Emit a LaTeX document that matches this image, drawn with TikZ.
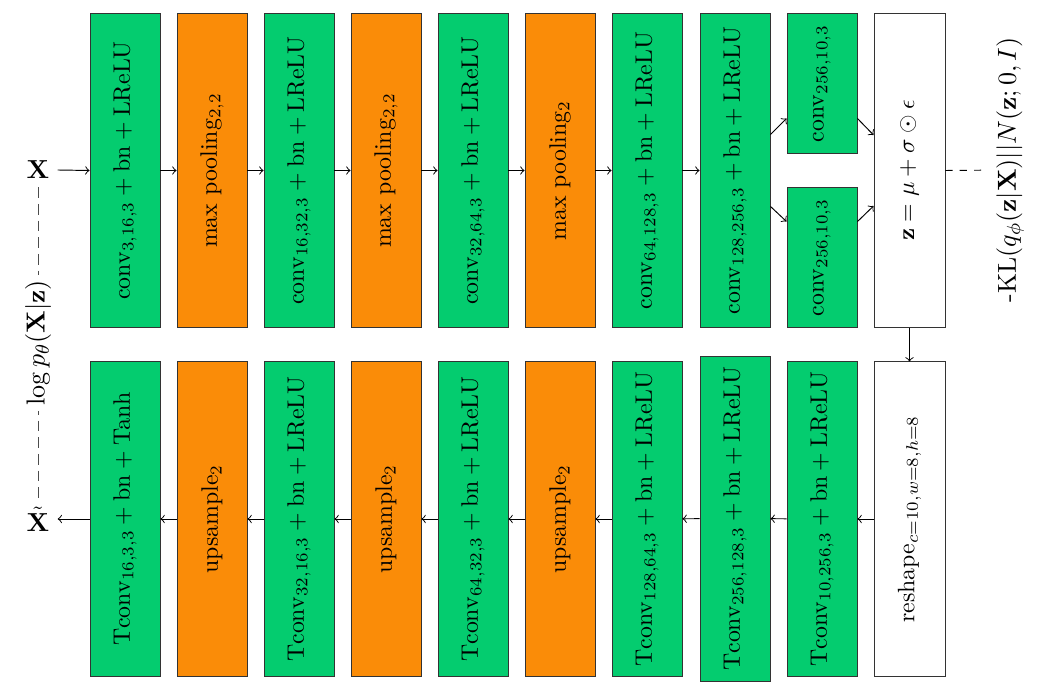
\documentclass[tikz,border=0pt]{standalone}
\usepackage{graphicx}
\definecolor{convgreen}{RGB}{4,204,111}
\definecolor{poolorange}{RGB}{250,140,8}
\begin{document}
\begin{tikzpicture}[x=0.42pt,y=-0.42pt,
  box/.style={draw=black!80, line width=0.4pt, minimum width=29.4pt, minimum height=131.9pt, inner sep=0pt},
  gbox/.style={box, fill=convgreen},
  obox/.style={box, fill=poolorange},
  wbox/.style={box, fill=white},
  arr/.style={->, line width=0.4pt},
  outer/.style={font=\fontsize{10.9}{13}\selectfont},
  lbl/.style={outer, inner sep=3.3pt}]
\useasboundingbox (0,0) rectangle (1047,692);
% encoder
\node[lbl] (x) at (38,170) {$\mathbf{X}$};
\node[gbox] (e1) at (125,170.5) {\rotatebox{90}{$\mathrm{conv}_{3,16,3}+\mathrm{bn}+\mathrm{LReLU}$}};
\node[obox] (e2) at (212,170.5) {\rotatebox{90}{max pooling$_{2,2}$}};
\node[gbox] (e3) at (299,170.5) {\rotatebox{90}{$\mathrm{conv}_{16,32,3}+\mathrm{bn}+\mathrm{LReLU}$}};
\node[obox] (e4) at (386,170.5) {\rotatebox{90}{max pooling$_{2,2}$}};
\node[gbox] (e5) at (473,170.5) {\rotatebox{90}{$\mathrm{conv}_{32,64,3}+\mathrm{bn}+\mathrm{LReLU}$}};
\node[obox] (e6) at (560,170.5) {\rotatebox{90}{max pooling$_{2}$}};
\node[gbox] (e7) at (647,170.5) {\rotatebox{90}{$\mathrm{conv}_{64,128,3}+\mathrm{bn}+\mathrm{LReLU}$}};
\node[gbox] (e8) at (735,170.5) {\rotatebox{90}{$\mathrm{conv}_{128,256,3}+\mathrm{bn}+\mathrm{LReLU}$}};
\node[gbox, minimum height=58.4pt] (mu) at (822,83.5) {\rotatebox{90}{$\mathrm{conv}_{256,10,3}$}};
\node[gbox, minimum height=58.4pt] (sg) at (822,257.5) {\rotatebox{90}{$\mathrm{conv}_{256,10,3}$}};
\node[wbox, minimum width=29.8pt] (z) at (909.5,170.5) {\rotatebox{90}{$\mathbf{z}=\mu+\sigma\odot\epsilon$}};
\node[outer, rotate=90] (kl) at (1010,170) {-KL$(q_\phi(\mathbf{z}|\mathbf{X})||N(\mathbf{z};0,I)$};
% decoder
\node[wbox, minimum width=29.8pt] (rs) at (909.5,519) {\rotatebox{90}{reshape$_{c=10,w=8,h=8}$}};
\node[gbox, minimum height=132.7pt] (d9) at (822,519) {\rotatebox{90}{$\mathrm{Tconv}_{10,256,3}+\mathrm{bn}+\mathrm{LReLU}$}};
\node[gbox, minimum height=136.5pt] (d8) at (735,518.5) {\rotatebox{90}{$\mathrm{Tconv}_{256,128,3}+\mathrm{bn}+\mathrm{LReLU}$}};
\node[gbox] (d7) at (647,519) {\rotatebox{90}{$\mathrm{Tconv}_{128,64,3}+\mathrm{bn}+\mathrm{LReLU}$}};
\node[obox] (d6) at (560,519) {\rotatebox{90}{upsample$_{2}$}};
\node[gbox] (d5) at (473,519) {\rotatebox{90}{$\mathrm{Tconv}_{64,32,3}+\mathrm{bn}+\mathrm{LReLU}$}};
\node[obox] (d4) at (386,519) {\rotatebox{90}{upsample$_{2}$}};
\node[gbox] (d3) at (299,519) {\rotatebox{90}{$\mathrm{Tconv}_{32,16,3}+\mathrm{bn}+\mathrm{LReLU}$}};
\node[obox] (d2) at (212,519) {\rotatebox{90}{upsample$_{2}$}};
\node[gbox] (d1) at (125,519) {\rotatebox{90}{$\mathrm{Tconv}_{16,3,3}+\mathrm{bn}+\mathrm{Tanh}$}};
\node[lbl] (xt) at (38,519) {$\tilde{\mathbf{X}}$};
% encoder arrows
\draw[arr] (x.east) -- (e1.west);
\draw[arr] (e1) -- (e2);
\draw[arr] (e2) -- (e3);
\draw[arr] (e3) -- (e4);
\draw[arr] (e4) -- (e5);
\draw[arr] (e5) -- (e6);
\draw[arr] (e6) -- (e7);
\draw[arr] (e7) -- (e8);
\draw[arr] ([yshift=15.1pt]e8.east) -- ([yshift=14.7pt]mu.south west);
\draw[arr] ([yshift=-15.1pt]e8.east) -- ([yshift=-14.3pt]sg.north west);
\draw[arr] ([yshift=14.7pt]mu.south east) -- ([yshift=14.9pt]z.west);
\draw[arr] ([yshift=-14.3pt]sg.north east) -- ([yshift=-14.9pt]z.west);
\draw[dashed, line width=0.4pt] (z.east) -- (kl);
\draw[arr] (z.south) -- (rs.north);
% decoder arrows
\draw[arr] (rs) -- (d9);
\draw[arr] (d9) -- (d8);
\draw[arr] (d8) -- (d7);
\draw[arr] (d7) -- (d6);
\draw[arr] (d6) -- (d5);
\draw[arr] (d5) -- (d4);
\draw[arr] (d4) -- (d3);
\draw[arr] (d3) -- (d2);
\draw[arr] (d2) -- (d1);
\draw[arr] (d1.west) -- (xt.east);
% reconstruction term
\draw[line width=0.4pt, dash pattern=on 4.5pt off 2.5pt, black!70] (x.south) -- (xt.north)
  node[outer, midway, fill=white, rotate=90, text=black, inner sep=2pt] {$\log p_\theta(\mathbf{X}|\mathbf{z})$};
\end{tikzpicture}
\end{document}
